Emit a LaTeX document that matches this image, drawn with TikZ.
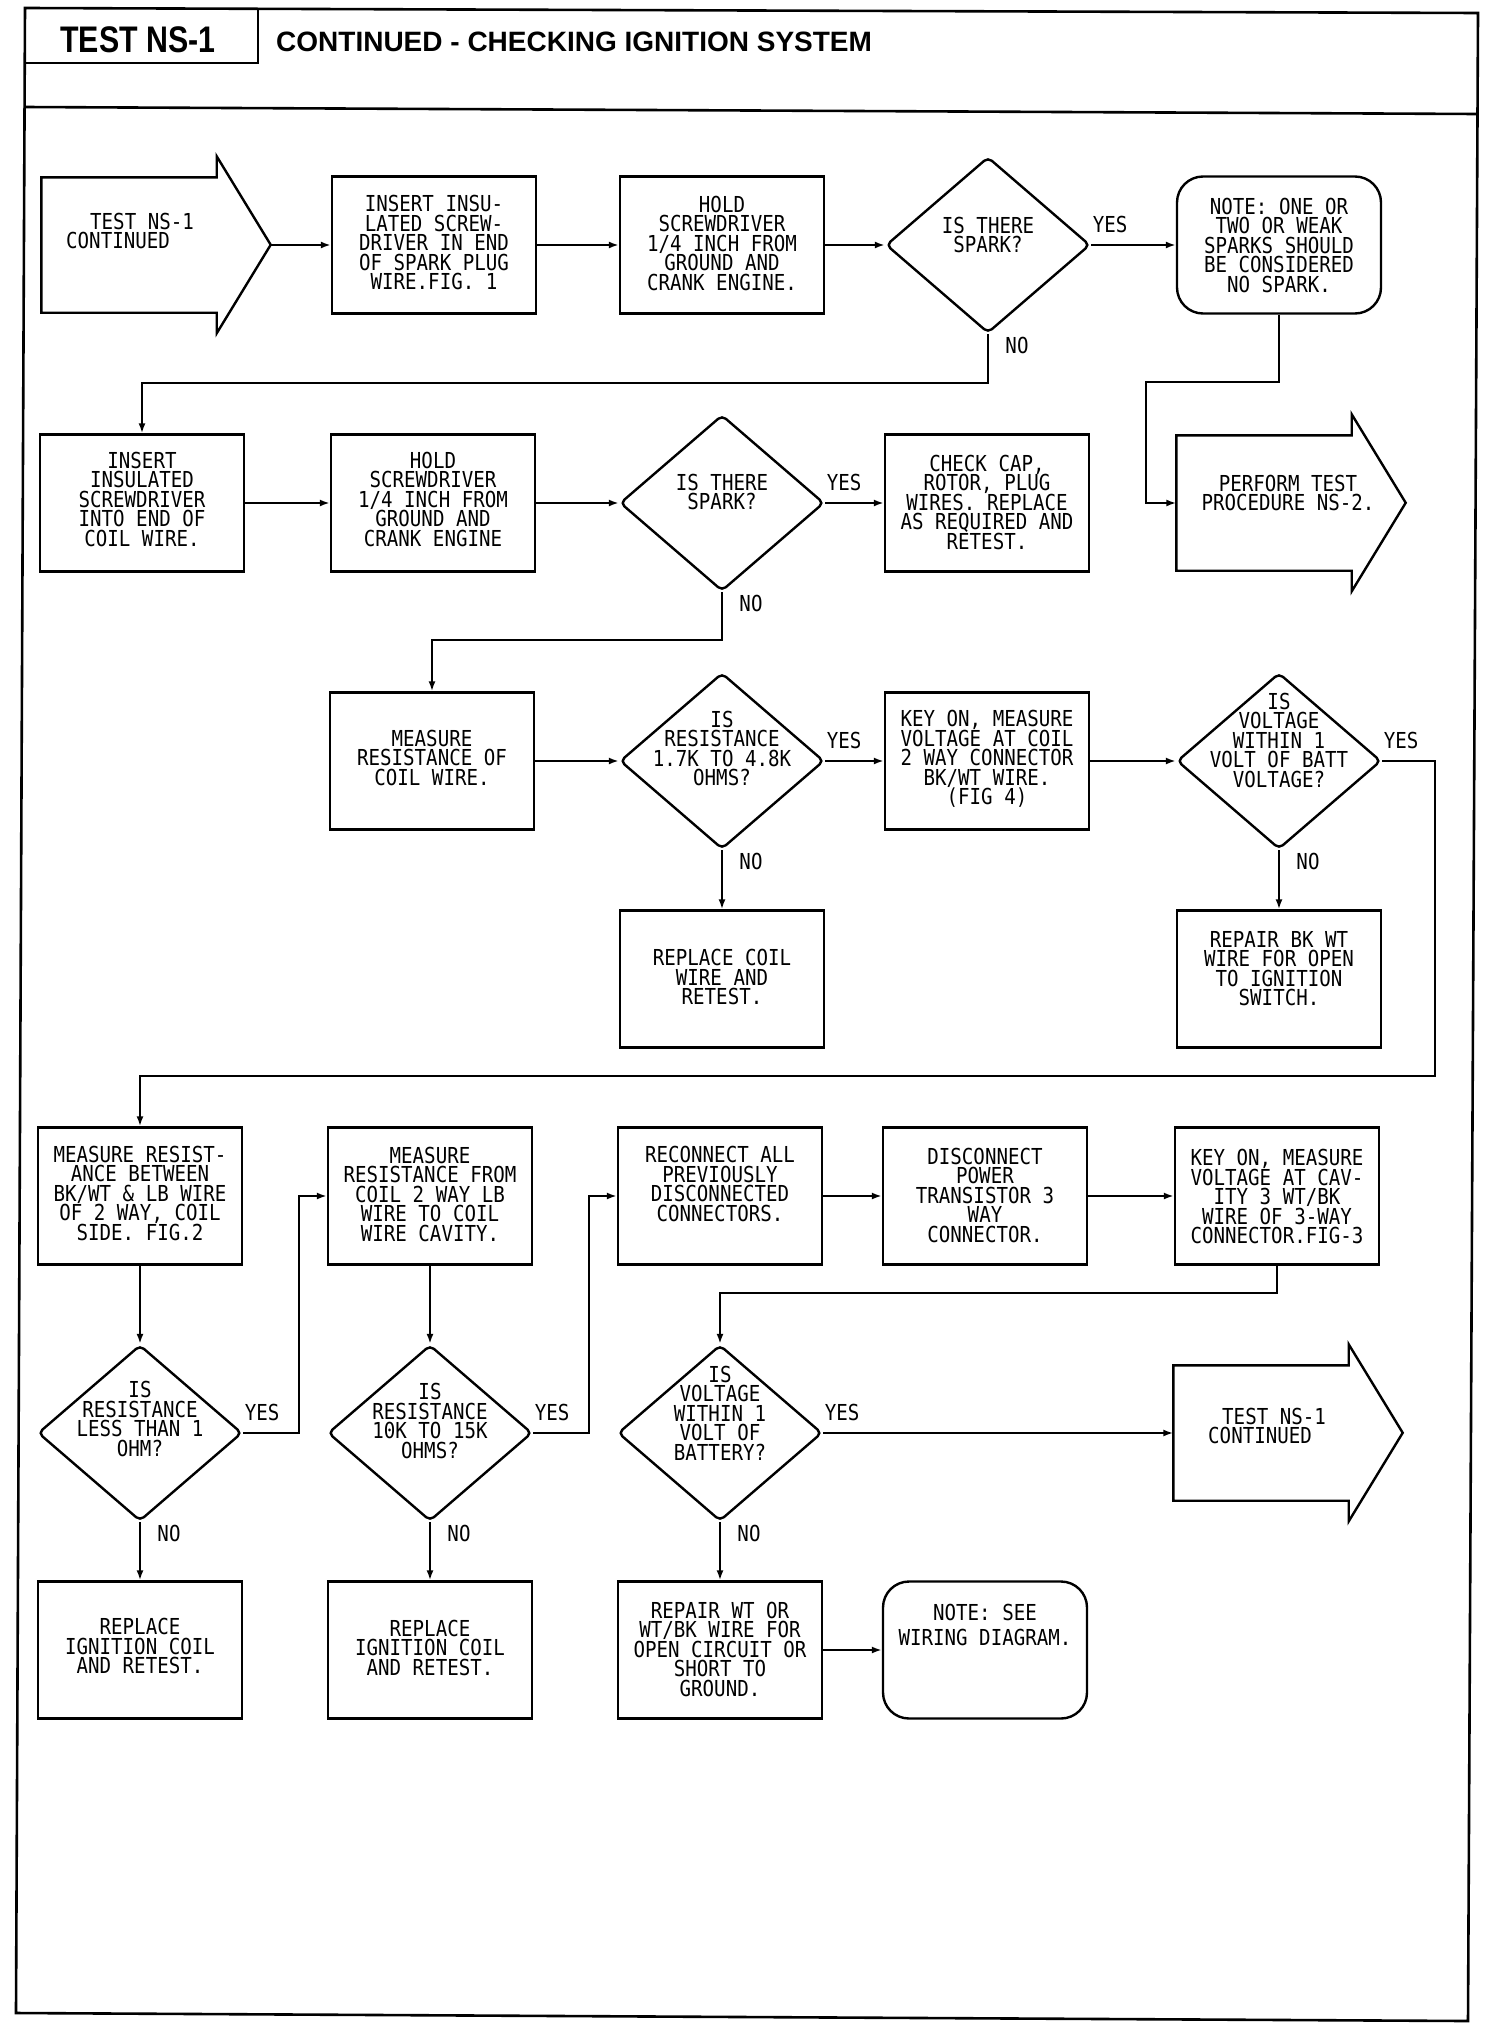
\documentclass[tikz,border=0pt]{standalone}
\usepackage{fontspec}
\usetikzlibrary{shapes.geometric,arrows.meta,calc}
\newfontfamily\plotfont[FakeStretch=0.87]{DejaVu Sans Mono}
\newfontfamily\headfont{Liberation Sans}
\newfontfamily\headcond[FakeStretch=0.82]{Liberation Sans}
\newcommand\drawbigarrow[1]{\draw[boxline] (#1.north west) -- (#1.north east) -- ++(0,-21) -- ++(54,88.5) -- ++(-54,88.5) -- (#1.south east) -- (#1.south west) -- cycle;}
\tikzset{
 boxline/.style={line width=2.4pt, line join=miter},
 box/.style={draw, boxline, rectangle, inner sep=0pt, minimum width=204pt, minimum height=137pt},
 note/.style={box, rounded corners=26pt},
 dia/.style={draw, boxline, diamond, inner sep=0pt, minimum width=204pt, minimum height=176pt, rounded corners=5pt},
 body/.style={rectangle, inner sep=0pt, minimum width=175pt, minimum height=135pt},
 txt/.style={font=\plotfont\fontsize{22}{19.5}\selectfont, align=center, inner sep=0pt},
 lbl/.style={font=\plotfont\fontsize{22}{19.5}\selectfont, inner sep=0pt},
 conn/.style={line width=1.9pt, -{Latex[length=10pt,width=7pt]}},
}
\begin{document}
\lineskiplimit=-50pt
\begin{tikzpicture}[x=1pt,y=-1pt]
\useasboundingbox (0,0) rectangle (1504,2026);
% frame and header
\draw[line width=2.6pt] (25,8) -- (1478,13) -- (1468,2021) -- (16,2013) -- cycle;
\draw[line width=2.4pt] (258,9) -- (258,63) -- (24.5,63);
\draw[line width=2.6pt] (24,107) -- (1477,114);
\node[inner sep=0pt, font=\headcond\bfseries\fontsize{37}{40}\selectfont] (hdrA) at (138,40) {TEST NS-1};
\node[inner sep=0pt, anchor=west, font=\headfont\bfseries\fontsize{28}{30}\selectfont] (hdrB) at (276,42) {CONTINUED - CHECKING IGNITION SYSTEM};

% row 1
\node[body] (start) at (129,245) {};
\drawbigarrow{start}
\coordinate (starttip) at ($(start.east)+(54,0)$);
\node[box] (b2) at (434,245) {};
\node[box] (b3) at (722,245) {};
\node[dia] (d1) at (988,245) {};
\node[note] (n1) at (1279,245) {};
% row 2
\node[box] (b4) at (142,503) {};
\node[box] (b5) at (433,503) {};
\node[dia] (d2) at (722,503) {};
\node[box] (b6) at (987,503) {};
\node[body] (perf) at (1264,503) {};
\drawbigarrow{perf}
% row 3
\node[box] (b7) at (432,761) {};
\node[dia] (d3) at (722,761) {};
\node[box] (b8) at (987,761) {};
\node[dia] (d4) at (1279,761) {};
\node[box] (b9) at (722,979) {};
\node[box] (b10) at (1279,979) {};
% row 4
\node[box] (bA) at (140,1196) {};
\node[box] (bB) at (430,1196) {};
\node[box] (bC) at (720,1196) {};
\node[box] (bD) at (985,1196) {};
\node[box] (bE) at (1277,1196) {};
% row 5
\node[dia] (d5) at (140,1433) {};
\node[dia] (d6) at (430,1433) {};
\node[dia] (d7) at (720,1433) {};
\node[body] (fin) at (1261,1433) {};
\drawbigarrow{fin}
% row 6
\node[box] (bF) at (140,1650) {};
\node[box] (bG) at (430,1650) {};
\node[box] (bH) at (720,1650) {};
\node[note] (n2) at (985,1650) {};

% texts
\node[txt, align=left, anchor=west] (tstart) at (66,231) {\hspace*{24pt}TEST NS-1\\CONTINUED};
\node[txt] (tb2) at (434,242.5) {INSERT INSU-\\LATED SCREW-\\DRIVER IN END\\OF SPARK PLUG\\WIRE.FIG. 1};
\node[txt] (tb3) at (722,243) {HOLD\\SCREWDRIVER\\1/4 INCH FROM\\GROUND AND\\CRANK ENGINE.};
\node[txt] (td1) at (988,235) {IS THERE\\SPARK?};
\node[txt] (tn1) at (1279,245) {NOTE: ONE OR\\TWO OR WEAK\\SPARKS SHOULD\\BE CONSIDERED\\NO SPARK.};
\node[txt] (tb4) at (142,499) {INSERT\\INSULATED\\SCREWDRIVER\\INTO END OF\\COIL WIRE.};
\node[txt] (tb5) at (433,499) {HOLD\\SCREWDRIVER\\1/4 INCH FROM\\GROUND AND\\CRANK ENGINE};
\node[txt] (td2) at (722,492) {IS THERE\\SPARK?};
\node[txt] (tb6) at (987,502) {CHECK CAP,\\ROTOR, PLUG\\WIRES. REPLACE\\AS REQUIRED AND\\RETEST.};
\node[txt] (tperf) at (1288,493) {PERFORM TEST\\PROCEDURE NS-2.};
\node[txt] (tb7) at (432,757.5) {MEASURE\\RESISTANCE OF\\COIL WIRE.};
\node[txt] (td3) at (722,748.5) {IS\\RESISTANCE\\1.7K TO 4.8K\\OHMS?};
\node[txt] (tb8) at (987,759) {KEY ON, MEASURE\\VOLTAGE AT COIL\\2 WAY CONNECTOR\\BK/WT WIRE.\\(FIG 4)};
\node[txt] (td4) at (1279,740) {IS\\VOLTAGE\\WITHIN 1\\VOLT OF BATT\\VOLTAGE?};
\node[txt] (tb9) at (722,977) {REPLACE COIL\\WIRE AND\\RETEST.};
\node[txt] (tb10) at (1279,968.5) {REPAIR BK WT\\WIRE FOR OPEN\\TO IGNITION\\SWITCH.};
\node[txt] (tbA) at (140,1193) {MEASURE RESIST-\\ANCE BETWEEN\\BK/WT \& LB WIRE\\OF 2 WAY, COIL\\SIDE. FIG.2};
\node[txt] (tbB) at (430,1194) {MEASURE\\RESISTANCE FROM\\COIL 2 WAY LB\\WIRE TO COIL\\WIRE CAVITY.};
\node[txt] (tbC) at (720,1184) {RECONNECT ALL\\PREVIOUSLY\\DISCONNECTED\\CONNECTORS.};
\node[txt] (tbD) at (985,1195) {DISCONNECT\\POWER\\TRANSISTOR 3\\WAY\\CONNECTOR.};
\node[txt] (tbE) at (1277,1196.5) {KEY ON, MEASURE\\VOLTAGE AT CAV-\\ITY 3 WT/BK\\WIRE OF 3-WAY\\CONNECTOR.FIG-3};
\node[txt] (td5) at (140,1419) {IS\\RESISTANCE\\LESS THAN 1\\OHM?};
\node[txt] (td6) at (430,1421) {IS\\RESISTANCE\\10K TO 15K\\OHMS?};
\node[txt] (td7) at (720,1413) {IS\\VOLTAGE\\WITHIN 1\\VOLT OF\\BATTERY?};
\node[txt] (tbF) at (140,1646) {REPLACE\\IGNITION COIL\\AND RETEST.};
\node[txt] (tbG) at (430,1647.5) {REPLACE\\IGNITION COIL\\AND RETEST.};
\node[txt] (tbH) at (720,1649) {REPAIR WT OR\\WT/BK WIRE FOR\\OPEN CIRCUIT OR\\SHORT TO\\GROUND.};
\node[txt] (tn2) at (985,1625) {NOTE: SEE\\[6pt]WIRING DIAGRAM.};
\node[txt, align=left, anchor=west] (tfin) at (1208,1426) {\hspace*{14pt}TEST NS-1\\CONTINUED};

% YES / NO labels
\foreach \d in {d1,d2,d3,d4,d5,d6,d7}{
  \node[lbl] (yes-\d) at ($(\d.east)+(19,-21)$) {YES};
  \node[lbl] (no-\d) at ($(\d.south)+(29,11)$) {NO};
}

% connectors
\draw[conn] (starttip) -- (b2.west);
\draw[conn] (b2.east) -- (b3.west);
\draw[conn] (b3.east) -- (d1.west);
\draw[conn] (d1.east) -- (n1.west);
\draw[conn] (d1.south) -- ++(0,49) -| (b4.north);
\coordinate (k1) at (1146,382);
\draw[conn] (n1.south) |- (k1) |- (perf.west);
\draw[conn] (b4.east) -- (b5.west);
\draw[conn] (b5.east) -- (d2.west);
\draw[conn] (d2.east) -- (b6.west);
\draw[conn] (d2.south) -- ++(0,48) -| (b7.north);
\draw[conn] (b7.east) -- (d3.west);
\draw[conn] (d3.east) -- (b8.west);
\draw[conn] (b8.east) -- (d4.west);
\draw[conn] (d3.south) -- (b9.north);
\draw[conn] (d4.south) -- (b10.north);
\coordinate (k2) at (1435,1076);
\draw[conn] (d4.east) -| (k2) -| (bA.north);
\draw[conn] (bA.south) -- (d5.north);
\draw[conn] (bB.south) -- (d6.north);
\draw[conn] (d5.east) -- ++(56,0) |- (bB.west);
\draw[conn] (d6.east) -- ++(56,0) |- (bC.west);
\draw[conn] (bC.east) -- (bD.west);
\draw[conn] (bD.east) -- (bE.west);
\draw[conn] (bE.south) -- ++(0,27) -| (d7.north);
\draw[conn] (d5.south) -- (bF.north);
\draw[conn] (d6.south) -- (bG.north);
\draw[conn] (d7.south) -- (bH.north);
\draw[conn] (d7.east) -- (fin.west);
\draw[conn] (bH.east) -- (n2.west);
\end{tikzpicture}
\end{document}
